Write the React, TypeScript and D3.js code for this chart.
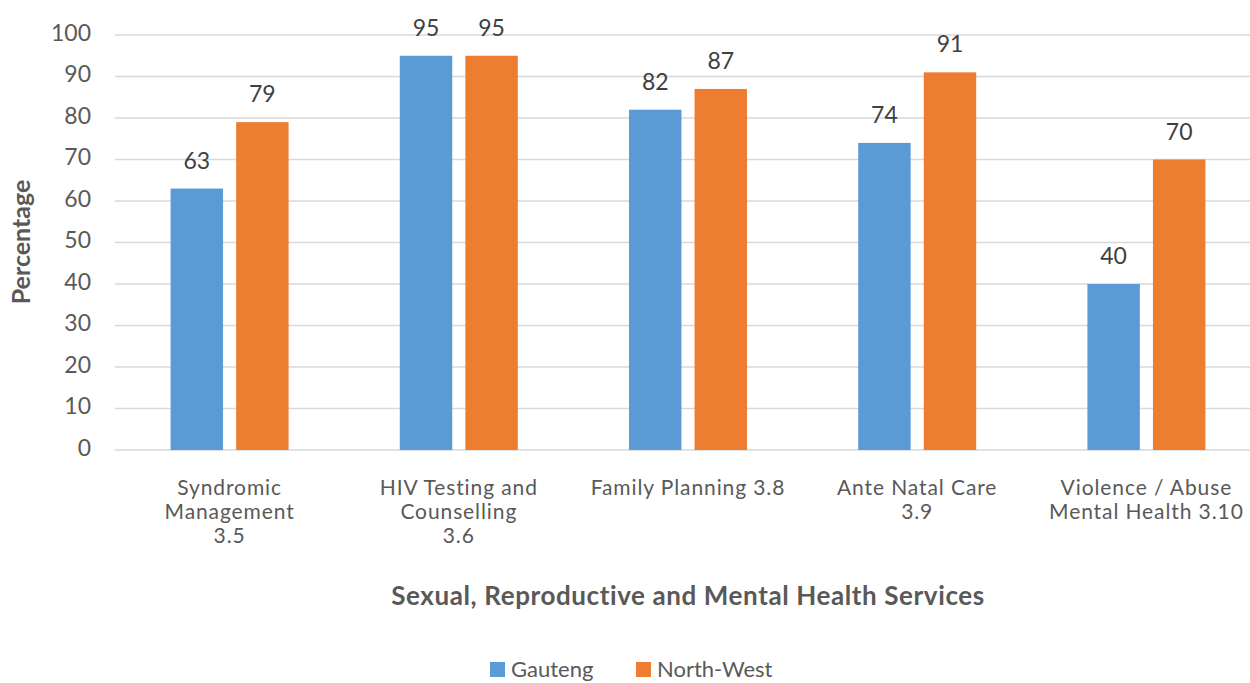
import React from "react";
import * as d3 from "d3";

const categories: string[][] = [
  ["Syndromic", "Management", "3.5"],
  ["HIV Testing and", "Counselling", "3.6"],
  ["Family Planning 3.8"],
  ["Ante Natal Care", "3.9"],
  ["Violence / Abuse", "Mental Health 3.10"],
];
const gauteng = [63, 95, 82, 74, 40];
const northWest = [79, 95, 87, 91, 70];
const seriesNames = ["Gauteng", "North-West"];
const yTicks = [0, 10, 20, 30, 40, 50, 60, 70, 80, 90, 100];
const colors = ["#5B9BD5", "#ED7D31"];

const W = 1250;
const H = 683;
const FONT = "Lato, 'Open Sans', sans-serif";

export default function App() {
  const left = 115;
  const right = 1261;
  const top = 35;
  const bottom = 450;
  const y = d3.scaleLinear().domain([0, 100]).range([bottom, top]);
  const x0 = d3
    .scaleBand<number>()
    .domain(categories.map((_, i) => i))
    .range([left, right])
    .paddingInner(0)
    .paddingOuter(0);
  const bw = x0.bandwidth();
  const x1 = d3
    .scaleBand<number>()
    .domain([0, 1])
    .range([bw / 2 - 59, bw / 2 + 59])
    .paddingInner(0.2)
    .paddingOuter(0);
  const series = [gauteng, northWest];

  return (
    <svg
      width={W}
      height={H}
      style={{ position: "absolute", left: 0, top: 0, background: "#fff" }}
      fontFamily={FONT}
    >
      {yTicks.map((t) => (
        <g key={t}>
          <line x1={left} x2={W} y1={y(t)} y2={y(t)} stroke="#d9d9d9" strokeWidth={1.3} />
          <text
            x={91}
            y={y(t)}
            textAnchor="end"
            dominantBaseline="middle"
            fontSize={23}
            fill="#595959"
          >
            {t}
          </text>
        </g>
      ))}
      {series.map((vals, s) =>
        vals.map((v, i) => {
          const bx = (x0(i) as number) + (x1(s) as number);
          return (
            <g key={`${s}-${i}`}>
              <rect x={bx} y={y(v)} width={x1.bandwidth()} height={bottom - y(v)} fill={colors[s]} />
              <text
                x={bx + x1.bandwidth() / 2}
                y={y(v) - 20}
                textAnchor="middle"
                fontSize={23}
                fill="#404040"
              >
                {v}
              </text>
            </g>
          );
        })
      )}
      {categories.map((lines, i) => (
        <text
          key={i}
          x={(x0(i) as number) + bw / 2}
          textAnchor="middle"
          fontSize={21}
          letterSpacing={0.9}
          fill="#595959"
        >
          {lines.map((l, j) => (
            <tspan key={j} x={(x0(i) as number) + bw / 2} y={495 + j * 24}>
              {l}
            </tspan>
          ))}
        </text>
      ))}
      <text x={688} y={605} textAnchor="middle" fontSize={26} letterSpacing={0.6} fontWeight="bold" fill="#595959">
        Sexual, Reproductive and Mental  Health Services
      </text>
      <text
        transform={`translate(30, 242) rotate(-90)`}
        textAnchor="middle"
        fontSize={25}
        fontWeight="bold"
        fill="#595959"
      >
        Percentage
      </text>
      {seriesNames.map((n, s) => {
        const lx = s === 0 ? 490 : 636;
        return (
          <g key={n}>
            <rect x={lx} y={662} width={15} height={15} fill={colors[s]} />
            <text x={lx + 21} y={677} fontSize={22} fill="#595959">
              {n}
            </text>
          </g>
        );
      })}
    </svg>
  );
}
